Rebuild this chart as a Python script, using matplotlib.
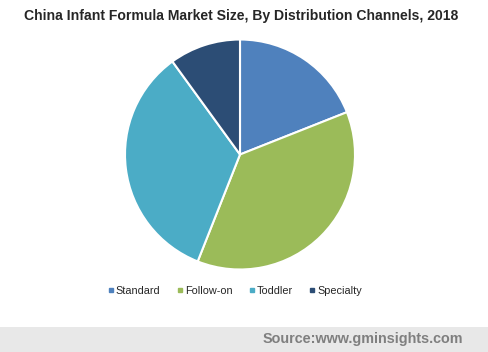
import matplotlib
matplotlib.use("Agg")
import matplotlib.pyplot as plt
from matplotlib.lines import Line2D
from matplotlib.patches import Rectangle

categories = ["Standard", "Follow-on", "Toddler", "Specialty"]
shares = [19, 37, 34, 10]
colors = ["#4F81BD", "#9BBB59", "#4BACC6", "#2C4D75"]
title = "China Infant Formula Market Size, By Distribution Channels, 2018"
source = "Source:www.gminsights.com"

W, H = 488, 352
fig = plt.figure(figsize=(W / 100, H / 100), dpi=100)
fig.patch.set_facecolor("white")
plt.rcParams["font.family"] = ["Liberation Sans", "DejaVu Sans"]

# footer band
fig.patches.append(Rectangle((0, 0), 1, 25 / H, transform=fig.transFigure,
                             facecolor="#E8E8E8", edgecolor="none", zorder=0))
fig.text(463 / W, 13.5 / H, source, ha="right", va="center", fontsize=10.4,
         fontweight="bold", color="#7F7F7F")

fig.text(241 / W, (H - 16) / H, title, ha="center", va="center", fontsize=10.1,
         fontweight="bold", color="#262626")

cx, cy, r = 240, 154.5, 115
ax = fig.add_axes([(cx - r) / W, (H - cy - r) / H, 2 * r / W, 2 * r / H])
ax.pie(shares, colors=colors, startangle=90, counterclock=False,
       wedgeprops=dict(edgecolor="white", linewidth=1.5))
ax.set_aspect("equal")
ax.set_xlim(-1, 1)
ax.set_ylim(-1, 1)
ax.axis("off")

handles = [Line2D([], [], marker="s", linestyle="none", markersize=3.5,
                  markerfacecolor=c, markeredgecolor=c) for c in colors]
fig.legend(handles, categories, loc="center", bbox_to_anchor=(235 / W, (H - 291) / H),
           ncol=4, frameon=False, fontsize=7.8, handlelength=0.5, handletextpad=0.25,
           columnspacing=1.5, labelcolor="#262626")

fig.savefig("out.png", dpi=100, facecolor="white")
